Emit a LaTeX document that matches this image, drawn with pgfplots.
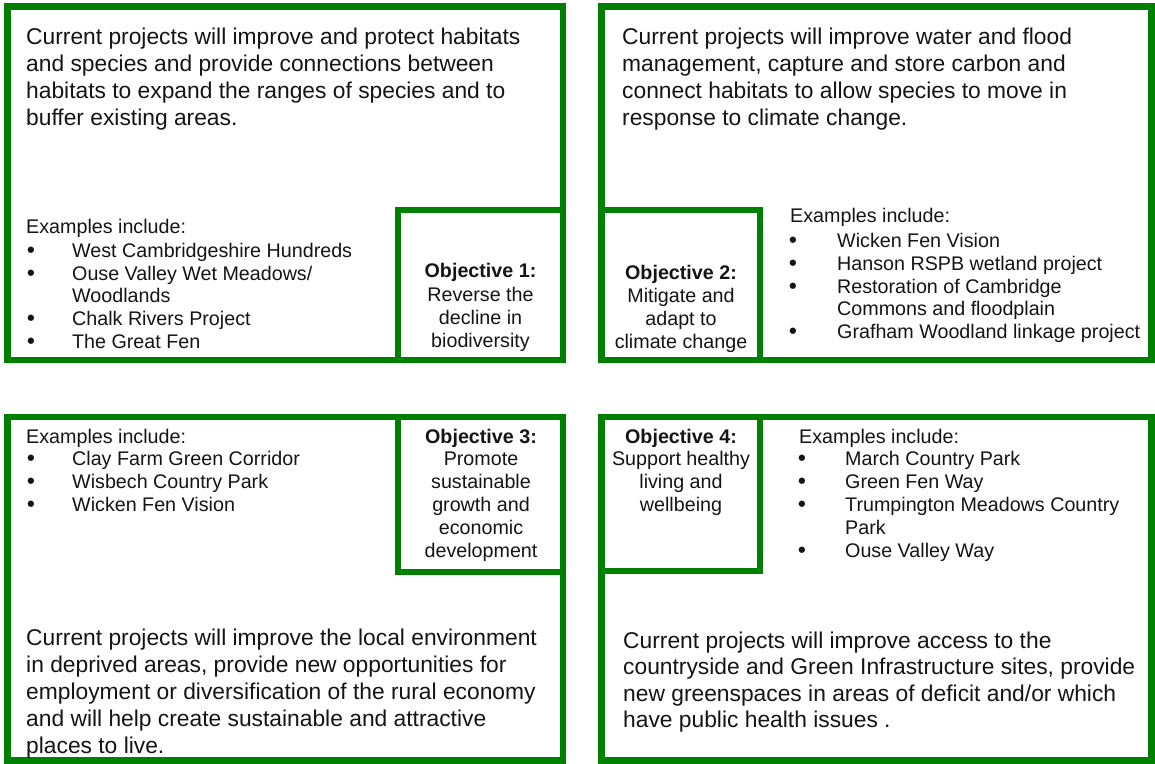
\documentclass[border=0pt]{standalone}
\usepackage{pgfplots}
\pgfplotsset{compat=1.18}
\usepackage{fontspec}
\setmainfont{Liberation Sans}
\definecolor{gr}{RGB}{0,128,0}
\definecolor{tx}{RGB}{20,20,20}
\newcommand{\bigf}{\fontsize{22.8bp}{27bp}\selectfont}
\newcommand{\smf}{\fontsize{19.7bp}{23bp}\selectfont}
\newcommand{\BL}[3]{\node[anchor=base west,inner sep=0pt,text=tx,font=\bigf] at (axis cs:#1,#2) {#3};}
\newcommand{\SL}[3]{\node[anchor=base west,inner sep=0pt,text=tx,font=\smf] at (axis cs:#1,#2) {#3};}
\newcommand{\BU}[2]{\node[anchor=base west,inner sep=0pt,text=tx,font=\fontsize{22bp}{23bp}\selectfont\bfseries] at (axis cs:#1,#2) {•};}
\newcommand{\CL}[3]{\node[anchor=base,inner sep=0pt,text=tx,font=\smf] at (axis cs:#1,#2) {#3};}
\begin{document}
\begin{tikzpicture}
\begin{axis}[
  x=1bp, y=1bp, y dir=reverse,
  xmin=0, xmax=1155, ymin=0, ymax=764,
  hide axis, clip=false, scale only axis,
  gline/.style={draw=gr, line width=6.5bp, line join=miter, line cap=rect, mark=none},
]
% invisible frame fixing the picture's extent
\addplot[draw=none, mark=none] coordinates {(0,0) (1155,764)};
% box outlines
\addplot[gline] coordinates {(7.5,6.5) (563,6.5) (563,360) (7.5,360) (7.5,6.5)};
\addplot[gline] coordinates {(398,360) (398,210) (563,210)};
\addplot[gline] coordinates {(601.5,6.5) (1151.5,6.5) (1151.5,360) (601.5,360) (601.5,6.5)};
\addplot[gline] coordinates {(760,360) (760,210) (601.5,210)};
\addplot[gline] coordinates {(7.5,417) (563,417) (563,760.5) (7.5,760.5) (7.5,417)};
\addplot[gline] coordinates {(398,417) (398,572) (563,572)};
\addplot[gline] coordinates {(601.5,417) (1151.5,417) (1151.5,760.5) (601.5,760.5) (601.5,417)};
\addplot[gline] coordinates {(760,417) (760,571) (601.5,571)};

% ---- Top left
\BL{26}{45}{Current projects will improve and protect habitats}
\BL{26}{72}{and species and provide connections between}
\BL{26}{98.5}{habitats to expand the ranges of species and to}
\BL{26}{125}{buffer existing areas.}
\SL{26}{233}{Examples include:}
\BU{27}{257}\SL{72}{257}{West Cambridgeshire Hundreds}
\BU{27}{280}\SL{72}{280}{Ouse Valley Wet Meadows/}
\SL{72}{302}{Woodlands}
\BU{27}{325}\SL{72}{325}{Chalk Rivers Project}
\BU{27}{348}\SL{72}{348}{The Great Fen}
\CL{480.5}{277}{\textbf{Objective 1:}}
\CL{480.5}{301}{Reverse the}
\CL{480.5}{324}{decline in}
\CL{480.5}{347}{biodiversity}

% ---- Top right
\BL{622}{45}{Current projects will improve water and flood}
\BL{622}{72}{management, capture and store carbon and}
\BL{622}{98.5}{connect habitats to allow species to move in}
\BL{622}{125}{response to climate change.}
\SL{790}{222}{Examples include:}
\BU{789}{247}\SL{837}{247}{Wicken Fen Vision}
\BU{789}{270}\SL{837}{270}{Hanson RSPB wetland project}
\BU{789}{293}\SL{837}{293}{Restoration of Cambridge}
\SL{837}{315}{Commons and floodplain}
\BU{789}{338}\SL{837}{338}{Grafham Woodland linkage project}
\CL{681}{279}{\textbf{Objective 2:}}
\CL{681}{302}{Mitigate and}
\CL{681}{325}{adapt to}
\CL{681}{348}{climate change}

% ---- Bottom left
\SL{26}{443}{Examples include:}
\BU{27}{465}\SL{72}{465}{Clay Farm Green Corridor}
\BU{27}{488}\SL{72}{488}{Wisbech Country Park}
\BU{27}{511}\SL{72}{511}{Wicken Fen Vision}
\CL{481}{443}{\textbf{Objective 3:}}
\CL{481}{465}{Promote}
\CL{481}{488}{sustainable}
\CL{481}{511}{growth and}
\CL{481}{534}{economic}
\CL{481}{557}{development}
\BL{26}{645}{Current projects will improve the local environment}
\BL{26}{672}{in deprived areas, provide new opportunities for}
\BL{26}{699}{employment or diversification of the rural economy}
\BL{26}{726}{and will help create sustainable and attractive}
\BL{26}{753}{places to live.}

% ---- Bottom right
\CL{681}{443}{\textbf{Objective 4:}}
\CL{681}{465}{Support healthy}
\CL{681}{488}{living and}
\CL{681}{511}{wellbeing}
\SL{799}{443}{Examples include:}
\BU{798}{465}\SL{845}{465}{March Country Park}
\BU{798}{488}\SL{845}{488}{Green Fen Way}
\BU{798}{511}\SL{845}{511}{Trumpington Meadows Country}
\SL{845}{534}{Park}
\BU{798}{557}\SL{845}{557}{Ouse Valley Way}
\BL{623}{648}{Current projects will improve access to the}
\BL{623}{674.5}{countryside and Green Infrastructure sites, provide}
\BL{623}{701}{new greenspaces in areas of deficit and/or which}
\BL{623}{727.5}{have public health issues .}
\end{axis}
\end{tikzpicture}
\end{document}
